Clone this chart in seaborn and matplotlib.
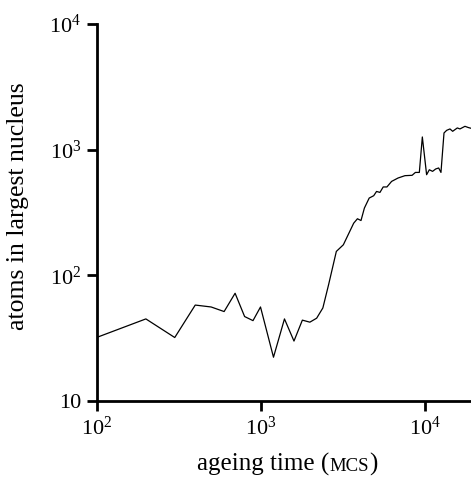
import matplotlib
matplotlib.use("Agg")
import matplotlib.pyplot as plt
import seaborn as sns
import pandas as pd
from matplotlib.ticker import FixedLocator, FixedFormatter, NullLocator

# ---- data ----
time_mcs = [100, 200, 300, 400, 500, 600, 700, 800, 900, 1000, 1200, 1400, 1600,
            1800, 2000, 2200, 2400, 2600, 2900, 3200, 3700, 3900, 4100, 4300, 4600,
            4900, 5100, 5350, 5600, 5900, 6300, 6900, 7600, 8400, 8800, 9300, 9700,
            10300, 10700, 11200, 11700, 12200, 12600, 13150, 13650, 14300, 14850,
            15850, 16450, 17650, 18500, 19200]
atoms = [32, 45, 32, 58, 56, 51.5, 72, 47, 43.6, 56, 22.3, 45, 30,
         44, 42.4, 45.6, 55, 84, 155, 175, 260, 282, 273, 343, 412,
         430, 465, 457, 505, 505, 559, 595, 621, 625, 659, 659, 1262,
         632, 692, 672, 702, 715, 659, 1358, 1425, 1462, 1400,
         1489, 1462, 1534, 1500, 1480]
x_ticks = [1e2, 1e3, 1e4]
x_tick_labels = [r"$10^2$", r"$10^3$", r"$10^4$"]
y_ticks = [1e1, 1e2, 1e3, 1e4]
y_tick_labels = ["10", r"$10^2$", r"$10^3$", r"$10^4$"]

sns.set_theme(style="white")
plt.rcParams["font.family"] = ["Liberation Serif", "DejaVu Serif"]
plt.rcParams["mathtext.fontset"] = "custom"
plt.rcParams["mathtext.rm"] = "Liberation Serif"
plt.rcParams["mathtext.it"] = "Liberation Serif:italic"
plt.rcParams["mathtext.bf"] = "Liberation Serif:bold"

df = pd.DataFrame({"time": time_mcs, "atoms": atoms})

fig = plt.figure(figsize=(4.71, 4.78), dpi=100)
ax = fig.add_axes([96.5 / 471, 1 - 401 / 478, 1 - 96.5 / 471, (401 - 24) / 478])

sns.lineplot(data=df, x="time", y="atoms", estimator=None, sort=False,
             color="black", linewidth=0.9, ax=ax)

ax.set_xscale("log")
ax.set_yscale("log")
ax.set_xlim(100, 19210)
ax.set_ylim(10, 1e4)

ax.xaxis.set_major_locator(FixedLocator(x_ticks))
ax.xaxis.set_major_formatter(FixedFormatter(x_tick_labels))
ax.yaxis.set_major_locator(FixedLocator(y_ticks))
ax.yaxis.set_major_formatter(FixedFormatter(y_tick_labels))
ax.xaxis.set_minor_locator(NullLocator())
ax.yaxis.set_minor_locator(NullLocator())

for s in ["top", "right"]:
    ax.spines[s].set_visible(False)
for s in ["left", "bottom"]:
    ax.spines[s].set_color("black")
    ax.spines[s].set_linewidth(2.0)

ax.tick_params(axis="both", which="major", direction="out", length=7, width=2.0,
               color="black", labelsize=16, labelcolor="black", pad=4)
ax.tick_params(axis="x", bottom=True)
ax.tick_params(axis="y", left=True)
ax.set_xlabel("")
ax.set_ylabel("")

# y label
fig.text(18 / 471, 1 - 206 / 478, "atoms in largest nucleus", rotation=90,
         ha="center", va="center", fontsize=18.5, color="black")

# x label with small caps "MCS"
renderer = fig.canvas.get_renderer()
base_y = 1 - 471 / 478
t1 = fig.text(197 / 471, base_y, "ageing time (", ha="left", va="baseline",
              fontsize=18, color="black")
bb1 = t1.get_window_extent(renderer)
t2 = fig.text(bb1.x1 / fig.bbox.width, base_y, "MCS", ha="left", va="baseline",
              fontsize=13.5, color="black")
bb2 = t2.get_window_extent(renderer)
fig.text(bb2.x1 / fig.bbox.width, base_y, ")", ha="left", va="baseline",
         fontsize=18, color="black")

fig.savefig("out.png", dpi=100)
